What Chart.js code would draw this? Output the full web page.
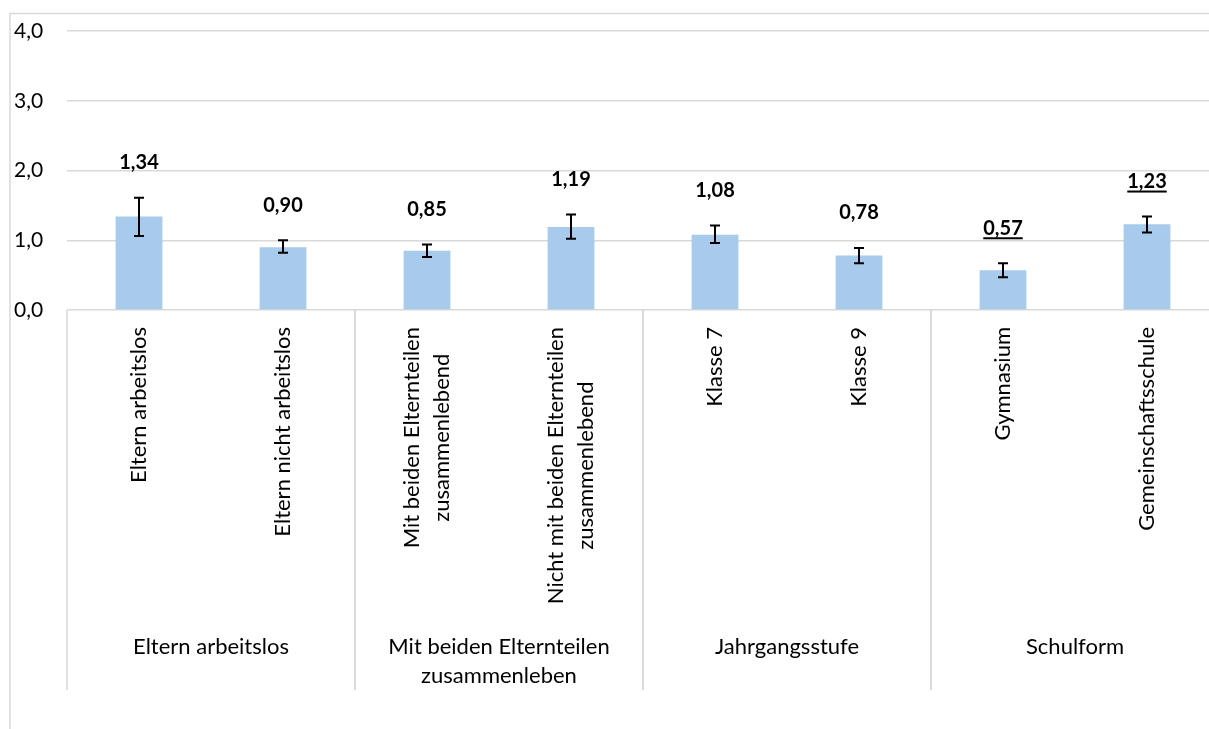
<!DOCTYPE html>
<html>
<head>
<meta charset="utf-8">
<script src="https://cdn.jsdelivr.net/npm/chart.js@4/dist/chart.umd.min.js"></script>
<style>
  html, body { margin: 0; padding: 0; background: #fff; overflow: hidden; }
  #wrap { width: 1209px; height: 729px; overflow: hidden; }
</style>
</head>
<body>
<div id="wrap"><canvas id="chart" width="1219" height="729" style="width:1219px;height:729px"></canvas></div>
<script>
// category labels (rotated), one array per line
const categories = [
    ['Eltern arbeitslos'],
    ['Eltern nicht arbeitslos'],
    ['Mit beiden Elternteilen', 'zusammenlebend'],
    ['Nicht mit beiden Elternteilen', 'zusammenlebend'],
    ['Klasse 7'],
    ['Klasse 9'],
    ['Gymnasium'],
    ['Gemeinschaftsschule']
];
const groups = [
    ['Eltern arbeitslos'],
    ['Mit beiden Elternteilen', 'zusammenleben'],
    ['Jahrgangsstufe'],
    ['Schulform']
];
const groupSize = 2;

const values = [1.34, 0.90, 0.85, 1.19, 1.08, 0.78, 0.57, 1.23];
const errLow = [1.06, 0.82, 0.76, 1.02, 0.96, 0.67, 0.47, 1.11];
const errHigh = [1.61, 1.00, 0.94, 1.37, 1.21, 0.89, 0.67, 1.34];
// underlined labels in the original
const significant = [false, false, false, false, false, false, true, true];

const yTicks = [0, 1, 2, 3, 4];

const gridColor = '#d9d9d9';
const fontFamily = 'Lato, "Open Sans", sans-serif';

function fmt(v, digits) {
    return v.toFixed(digits).replace('.', ',');
}

// frame, error bars, value labels and the two-level category axis
const extrasPlugin = {
    id: 'extras',
    beforeDraw(chart) {
        const ctx = chart.ctx;
        ctx.save();
        ctx.strokeStyle = gridColor;
        ctx.lineWidth = 1.5;
        ctx.strokeRect(10, 13.5, 1300, 800);
        ctx.restore();
    },
    afterDatasetsDraw(chart) {
        const ctx = chart.ctx;
        const x = chart.scales.x;
        const y = chart.scales.y;
        const area = chart.chartArea;

        ctx.save();
        // error bars
        ctx.strokeStyle = '#000';
        ctx.lineWidth = 2;
        values.forEach((v, i) => {
            const px = x.getPixelForValue(i);
            const top = y.getPixelForValue(errHigh[i]);
            const bot = y.getPixelForValue(errLow[i]);
            ctx.beginPath();
            ctx.moveTo(px, top); ctx.lineTo(px, bot);
            ctx.moveTo(px - 5, top); ctx.lineTo(px + 5, top);
            ctx.moveTo(px - 5, bot); ctx.lineTo(px + 5, bot);
            ctx.stroke();
        });

        // value labels
        ctx.fillStyle = '#000';
        ctx.font = 'bold 20px ' + fontFamily;
        ctx.textAlign = 'center';
        ctx.textBaseline = 'middle';
        values.forEach((v, i) => {
            const px = x.getPixelForValue(i);
            const py = y.getPixelForValue(errHigh[i]) - 35;
            const txt = fmt(v, 2);
            ctx.fillText(txt, px, py);
            if (significant[i]) {
                const w = ctx.measureText(txt).width;
                ctx.fillRect(px - w / 2, py + 9, w, 2);
            }
        });

        // rotated category labels
        ctx.font = '22px ' + fontFamily;
        ctx.textBaseline = 'middle';
        const lineGap = 30;
        categories.forEach((lines, i) => {
            const px = x.getPixelForValue(i);
            const widths = lines.map(l => ctx.measureText(l).width);
            const maxW = Math.max(...widths);
            ctx.save();
            ctx.translate(px, area.bottom + 17 + maxW / 2);
            ctx.rotate(-Math.PI / 2);
            lines.forEach((l, k) => {
                const off = (k - (lines.length - 1) / 2) * lineGap;
                ctx.fillText(l, 0, off);
            });
            ctx.restore();
        });

        // group separators and labels
        const step = x.getPixelForValue(1) - x.getPixelForValue(0);
        ctx.strokeStyle = gridColor;
        ctx.lineWidth = 1.5;
        groups.forEach((lines, g) => {
            const first = g * groupSize;
            const left = x.getPixelForValue(first) - step / 2;
            const right = x.getPixelForValue(first + groupSize - 1) + step / 2;
            ctx.beginPath();
            ctx.moveTo(left, area.bottom); ctx.lineTo(left, 690);
            ctx.moveTo(right, area.bottom); ctx.lineTo(right, 690);
            ctx.stroke();
            ctx.textAlign = 'center';
            lines.forEach((l, k) => {
                ctx.fillText(l, (left + right) / 2, 647 + k * 29);
            });
        });
        ctx.restore();
    }
};

new Chart(document.getElementById('chart'), {
    type: 'bar',
    data: {
        labels: categories,
        datasets: [{
            data: values,
            backgroundColor: '#a8caec',
            borderWidth: 0,
            categoryPercentage: 1,
            barPercentage: 0.325
        }]
    },
    options: {
        responsive: false,
        animation: false,
        devicePixelRatio: 1,
        layout: { padding: { left: 14, top: 31, right: 0, bottom: 0 } },
        plugins: {
            legend: { display: false },
            tooltip: { enabled: false }
        },
        scales: {
            x: {
                grid: { display: false },
                border: { display: false },
                ticks: { display: false },
                afterFit: (s) => { s.height = 419; }
            },
            y: {
                min: yTicks[0],
                max: yTicks[yTicks.length - 1],
                afterBuildTicks: (s) => { s.ticks = yTicks.map(v => ({ value: v })); },
                afterFit: (s) => { s.width = 53; },
                grid: { color: gridColor, lineWidth: 1.5, drawTicks: false },
                border: { display: false },
                ticks: {
                    crossAlign: 'far',
                    color: '#000',
                    font: { family: fontFamily, size: 21 },
                    callback: (v) => fmt(v, 1)
                }
            }
        }
    },
    plugins: [extrasPlugin]
});
</script>
</body>
</html>
